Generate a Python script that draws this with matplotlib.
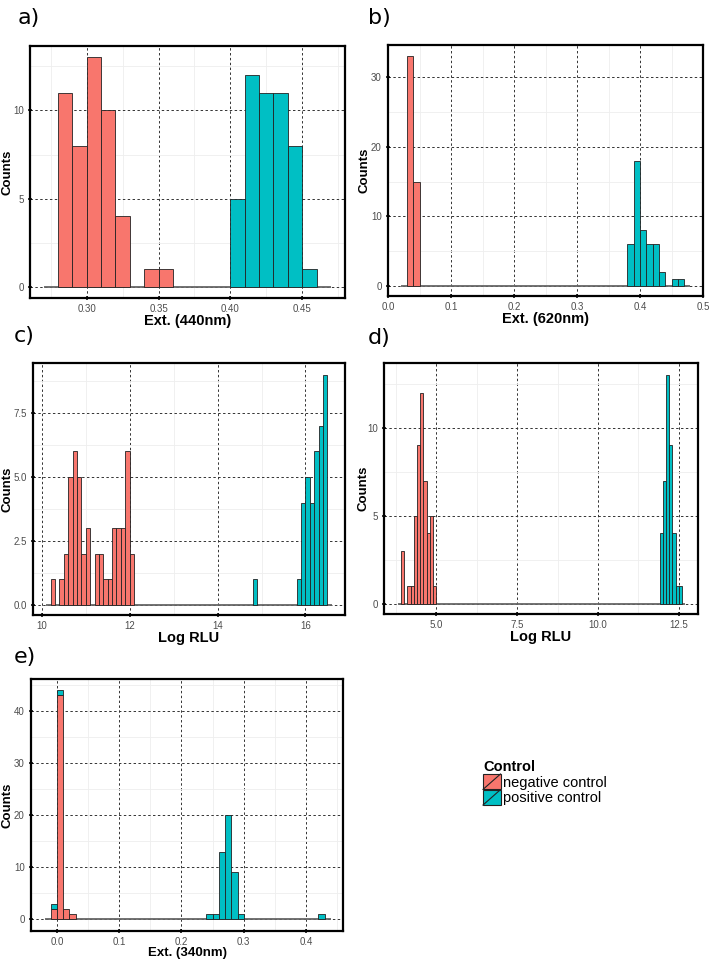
# Histograms of control measurements, negative vs positive

import numpy as np
import matplotlib.pyplot as plt
from matplotlib.patches import Patch, Rectangle
from matplotlib.lines import Line2D
from matplotlib.legend_handler import HandlerBase
from matplotlib.ticker import MultipleLocator

neg_color = '#F8766D'
pos_color = '#00BFC4'

# a) Ext. (440nm), bins of 0.01 starting at 0.28
a_start, a_width = 0.28, 0.01
a_neg = [11, 8, 13, 10, 4, 0, 1, 1, 0, 0, 0, 0, 0, 0, 0, 0, 0, 0]
a_pos = [0, 0, 0, 0, 0, 0, 0, 0, 0, 0, 0, 0, 5, 12, 11, 11, 8, 1]

# b) Ext. (620nm), bins of 0.01 starting at 0.03
b_start, b_width = 0.03, 0.01
b_neg = [33, 15] + [0] * 42
b_pos = [0] * 35 + [6, 18, 8, 6, 6, 2, 0, 1, 1]

# c) Log RLU, bins of 0.1 starting at 10.2
c_start, c_width = 10.2, 0.1
c_neg = [1, 0, 1, 2, 5, 6, 5, 2, 3, 0, 2, 2, 1, 1, 3, 3, 3, 6, 2] + [0] * 44
c_pos = [0] * 19 + [0] * 27 + [1] + [0] * 9 + [1, 4, 5, 4, 6, 7, 9]

# d) Log RLU, bins of 0.1 starting at 3.9
d_start, d_width = 3.9, 0.1
d_neg = [3, 0, 1, 1, 5, 9, 12, 7, 4, 5, 1] + [0] * 76
d_pos = [0] * 80 + [4, 7, 13, 9, 4, 1, 1]

# e) Ext. (340nm), bins of 0.01 starting at -0.01
e_start, e_width = -0.01, 0.01
e_neg = [2, 43, 2, 1] + [0] * 40
e_pos = [1, 1, 0, 0] + [0] * 21 + [1, 1, 13, 20, 9, 1] + [0] * 12 + [1]

panels = [
    ('a)', a_start, a_width, a_neg, a_pos, 'Ext. (440nm)', (0.2605, 0.4798), (-0.62, 13.65), 0.05, 5),
    ('b)', b_start, b_width, b_neg, b_pos, 'Ext. (620nm)', (0.0, 0.5), (-1.44, 34.6), 0.1, 10),
    ('c)', c_start, c_width, c_neg, c_pos, 'Log RLU', (9.80, 16.9), (-0.39, 9.45), 2, 2.5),
    ('d)', d_start, d_width, d_neg, d_pos, 'Log RLU', (3.38, 13.09), (-0.59, 13.69), 2.5, 5),
    ('e)', e_start, e_width, e_neg, e_pos, 'Ext. (340nm)', (-0.0417, 0.4594), (-2.24, 46.15), 0.1, 10),
]

W, H = 710, 959
# axes boxes in pixels: left, top, right, bottom
boxes_px = [
    (30, 46, 345, 298),
    (388, 45, 703, 296),
    (33, 363, 345, 615),
    (384, 363, 698, 614),
    (31, 679, 343, 931),
]
letter_pos = [(18, 24), (368, 24), (14, 342), (368, 344), (14, 663)]
xlabel_size = [10.5, 10.5, 10.5, 10.5, 9.5]

fig = plt.figure(figsize=(7.1, 9.59), dpi=100)

for i, (letter, start, width, neg, pos, xlabel, xlim, ylim, xstep, ystep) in enumerate(panels):
    l, t, r, b = boxes_px[i]
    ax = fig.add_axes([l / W, 1 - b / H, (r - l) / W, (b - t) / H])
    neg = np.array(neg, dtype=float)
    pos = np.array(pos, dtype=float)
    left = start + width * np.arange(len(neg))
    m = neg > 0
    ax.bar(left[m], neg[m], width=width, align='edge', color=neg_color,
           edgecolor='#222222', linewidth=0.6, zorder=3)
    m = pos > 0
    ax.bar(left[m], pos[m], width=width, bottom=neg[m], align='edge', color=pos_color,
           edgecolor='#222222', linewidth=0.6, zorder=3)
    # grey baseline across the binned range
    ax.hlines(0, left[0] - width, left[-1] + 2 * width, color='#666666', lw=1.3, zorder=2)

    ax.set_xlim(xlim)
    ax.set_ylim(ylim)
    ax.xaxis.set_major_locator(MultipleLocator(xstep))
    ax.yaxis.set_major_locator(MultipleLocator(ystep))
    ax.xaxis.set_minor_locator(MultipleLocator(xstep / 2))
    ax.yaxis.set_minor_locator(MultipleLocator(ystep / 2))
    ax.grid(which='minor', color='#eeeeee', lw=0.6, zorder=0)
    ax.grid(which='major', color='#333333', lw=0.7, linestyle=(0, (2.5, 2.5)), zorder=1)
    ax.tick_params(which='minor', length=0)
    ax.tick_params(which='major', direction='inout', length=3, width=1.1,
                   labelsize=7, labelcolor='#4d4d4d', pad=3)
    for s in ax.spines.values():
        s.set_linewidth(1.6)
    ax.set_xlabel(xlabel, fontsize=xlabel_size[i], fontweight='bold', family='Liberation Sans', labelpad=0)
    ax.set_ylabel('Counts', fontsize=9.5, fontweight='bold', family='Liberation Sans')
    # right edge of the rotated y label at ~13 px from the column's left edge
    lab_x = 14 if l < W / 2 else 370
    ax.yaxis.set_label_coords((lab_x - l) / (r - l), 0.5)
    for lab in ax.get_xticklabels() + ax.get_yticklabels():
        lab.set_family('Liberation Sans')
    fig.text(letter_pos[i][0] / W, 1 - letter_pos[i][1] / H, letter, fontsize=16, ha='left', va='baseline')


class DiagBox(HandlerBase):
    def create_artists(self, legend, orig, xd, yd, w, h, fontsize, trans):
        rect = Rectangle((-xd, -yd), w, h, facecolor=orig.get_facecolor(),
                         edgecolor='#222222', lw=0.8, transform=trans)
        ln = Line2D([-xd, -xd + w], [-yd, -yd + h], color='#222222', lw=0.8, transform=trans)
        return [rect, ln]


handles = [Patch(facecolor=neg_color), Patch(facecolor=pos_color)]
leg = fig.legend(handles, ['negative control', 'positive control'],
                 loc='upper left', bbox_to_anchor=(483 / W, 1 - 760 / H),
                 frameon=False, title='Control', handler_map={Patch: DiagBox()},
                 prop={'family': 'Liberation Sans', 'size': 10.5},
                 handlelength=1.2, handleheight=1.25, handletextpad=0.15,
                 labelspacing=0.0, borderpad=0, borderaxespad=0)
leg.get_title().set_fontweight('bold')
leg.get_title().set_family('Liberation Sans')
leg.get_title().set_fontsize(10.5)
leg._legend_box.align = 'left'

plt.savefig('out.png', dpi=100)
